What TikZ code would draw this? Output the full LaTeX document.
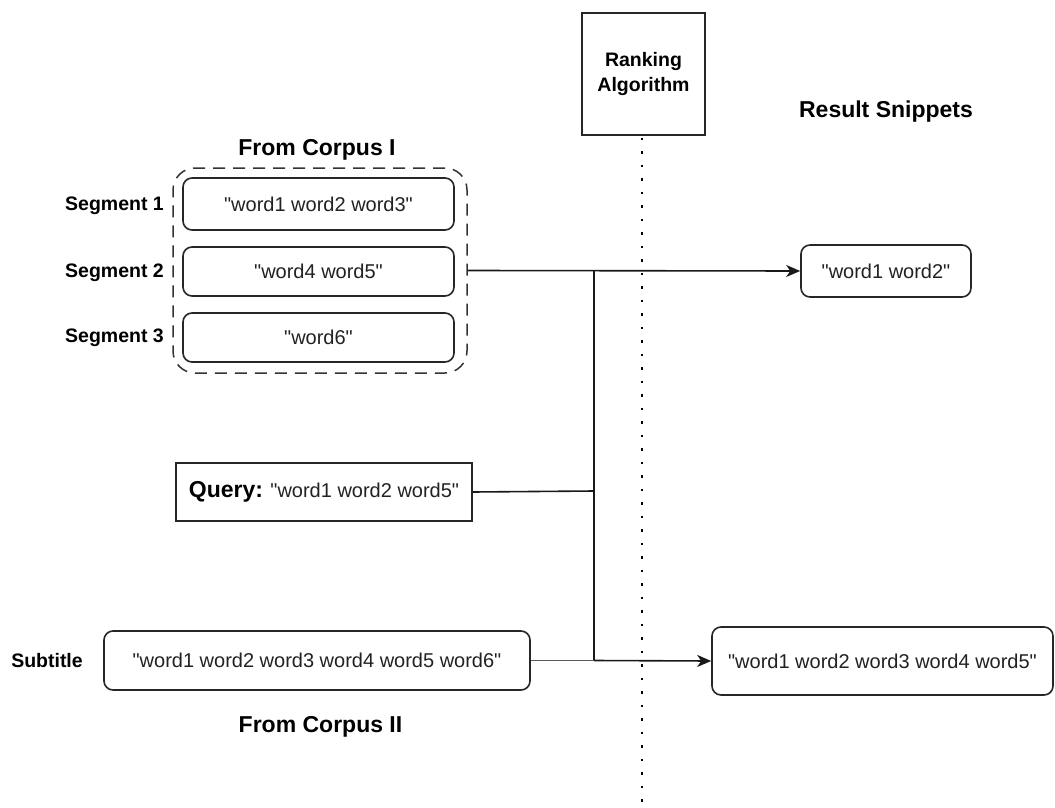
\documentclass[tikz,border=0pt]{standalone}
\usepackage{fontspec}
\setmainfont{Liberation Sans}
\usetikzlibrary{arrows.meta}
\definecolor{txt}{HTML}{222222}
\newcommand\qq{\XeTeXglyph\XeTeXcharglyph 34\relax}
\tikzset{
  box/.style={draw=black!85, line width=1.6pt, fill=white, inner sep=0pt, text=txt,
    font=\fontsize{20}{24}\selectfont},
  rbox/.style={box, rounded corners=9pt},
  lbl/.style={inner sep=0pt, text=black, font=\fontsize{19.5}{23}\selectfont\bfseries},
  head/.style={inner sep=0pt, text=black, font=\fontsize{23}{27}\selectfont\bfseries},
  conn/.style={draw=black!90, line width=1.6pt},
  arr/.style={conn, -{Stealth[length=14pt,width=12pt,inset=4pt]}},
  dotline/.style={draw=black, line width=2.8pt, dash pattern=on 2.8pt off 10.7pt}
}
\begin{document}
\begin{tikzpicture}[x=1pt,y=-1pt]
\useasboundingbox (0,0) rectangle (1055,808);
% dotted separator
\coordinate (dtop) at (642,16);
\coordinate (dbot) at (642,808);
\draw[dotline] (dtop) -- (dbot);
% ranking box
\node[box, minimum width=123pt, minimum height=122pt, align=center,
  font=\fontsize{19.5}{25}\selectfont\bfseries, text=black] (rank) at (643.5,74) {Ranking\\Algorithm};
% headers
\node[head] (rs) at (886,112) {Result Snippets};
\node[head] (fc1) at (317,150) {From Corpus I};
\node[head] (fc2) at (320.5,727) {From Corpus II};
% corpus I container
\node[draw=black!80, line width=1.5pt, dash pattern=on 12pt off 8pt, rounded corners=22pt,
  minimum width=294pt, minimum height=205pt, inner sep=0pt] (c1) at (320,270.5) {};
\node[rbox, minimum width=271pt, minimum height=52pt] (seg1) at (318.5,204) {\qq word1 word2 word3\qq};
\node[rbox, minimum width=271pt, minimum height=49pt] (seg2) at (318.5,271.5) {\qq word4 word5\qq};
\node[rbox, minimum width=271pt, minimum height=49pt] (seg3) at (318.5,337.5) {\qq word6\qq};
\node[lbl, anchor=east] (l1) at (164,206) {Segment 1};
\node[lbl, anchor=east] (l2) at (164,273) {Segment 2};
\node[lbl, anchor=east] (l3) at (164,338) {Segment 3};
% query
\node[box, minimum width=296pt, minimum height=58pt] (query) at (324,492)
  {{\fontsize{23}{27}\selectfont\bfseries\color{black}Query:} \qq word1 word2 word5\qq};
% subtitle
\node[lbl] (ls) at (47,661) {Subtitle};
\node[rbox, minimum width=426pt, minimum height=59pt] (sub) at (317,660.5) {\qq word1 word2 word3 word4 word5 word6\qq};
% results
\node[rbox, minimum width=170pt, minimum height=52pt] (res1) at (886,271) {\qq word1 word2\qq};
\node[rbox, minimum width=341pt, minimum height=68pt] (res2) at (882.5,661) {\qq word1 word2 word3 word4 word5\qq};
% junctions
\coordinate (jt) at (594,270.5);
\coordinate (jq) at (594,491);
\coordinate (jb) at (594,660.5);
% connectors
\draw[arr] (c1.east) -- (res1.west);
\draw[conn] (query.east) -- (jq);
\draw[conn] (jt) -- (jb);
\draw[conn, draw=black!65] (sub.east) -- (jb);
\draw[arr] (jb) -- (res2.west);
\end{tikzpicture}
\end{document}
